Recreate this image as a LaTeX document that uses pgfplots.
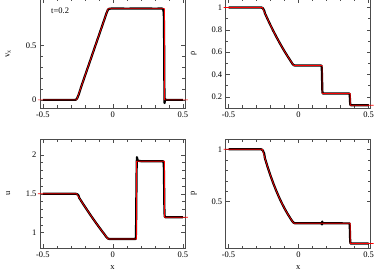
\documentclass[border=0pt]{standalone}
\usepackage{fontspec}
\setmainfont{Liberation Serif}
\usepackage{pgfplots}
\pgfplotsset{compat=1.18}
\pgfplotsset{panel/.style={
  scale only axis, width=145pt, height=109pt,
  xmin=-0.52, xmax=0.515,
  xtick={-0.5,0,0.5}, minor x tick num=4,
  tick align=inside,
  major tick length=4pt, minor tick length=2.5pt,
  axis line style={black!70, line width=0.6pt},
  every tick/.style={black!70, line width=0.5pt},
  tick label style={font=\fontsize{8.5}{10}\selectfont},
  label style={font=\fontsize{8.5}{10}\selectfont},
  /pgf/number format/assume math mode=true,
  clip=false,
  ylabel style={at={(axis description cs:-0.22,0.5)}, anchor=center},
  xlabel style={at={(axis description cs:0.5,-0.18)}, anchor=center},
},
sim/.style={black, line width=2.2pt, line join=round},
exact/.style={red, line width=0.7pt}}
\begin{document}
\begin{tikzpicture}
\useasboundingbox (0,0) rectangle (374pt,280pt);
% ---------------- v_x
\begin{axis}[panel, at={(40pt,172pt)}, anchor=south west,
  ymin=-0.075, ymax=0.93, ytick={0,0.5}, minor y tick num=4,
  ylabel={v\textsubscript{x}}]
\addplot[sim] coordinates {
(-0.5,0) (-0.27,0) (-0.262,0.003) (-0.255,0.014) (-0.245,0.045) (-0.22,0.143)
(-0.10,0.593) (-0.045,0.80) (-0.035,0.832) (-0.025,0.840) (0.0,0.843) (0.1,0.841)
(0.2,0.843) (0.3,0.841) (0.35,0.842) (0.358,0.838) (0.362,0.82) (0.364,0.78)
(0.366,0.55) (0.367,0.3) (0.368,0.1) (0.369,-0.03) (0.371,-0.01) (0.374,0.005)
(0.38,0) (0.5,0)};
\addplot[exact] coordinates {
(-0.535,0) (-0.2582,0) (-0.0339,0.8411) (0.3689,0.8411) (0.3689,0) (0.535,0)};
\node[anchor=west, font=\fontsize{8.5}{10}\selectfont] at (axis cs:-0.465,0.82) {t=0.2};
\end{axis}
% ---------------- rho
\begin{axis}[panel, at={(225.7pt,172pt)}, anchor=south west,
  ymin=0.1, ymax=1.076, ytick={0.2,0.4,0.6,0.8,1}, minor y tick num=1,
  ylabel={ρ}]
\addplot[sim] coordinates {
(-0.5,1) (-0.265,1) (-0.255,0.993) (-0.245,0.972) (-0.24,0.948) (-0.22,0.8931)
(-0.20,0.8403) (-0.18,0.7896) (-0.16,0.7410) (-0.14,0.6945) (-0.12,0.6499)
(-0.10,0.6073) (-0.08,0.5666) (-0.06,0.5277) (-0.045,0.498) (-0.035,0.484)
(-0.025,0.4797) (0.16,0.4797) (0.164,0.478) (0.166,0.45) (0.168,0.35)
(0.170,0.25) (0.172,0.232) (0.176,0.2298) (0.36,0.2298) (0.364,0.228)
(0.366,0.2) (0.368,0.15) (0.37,0.128) (0.374,0.125) (0.5,0.125)};
\addplot[exact] coordinates {
(-0.535,1) (-0.2582,1) (-0.24,0.94807) (-0.22,0.89311) (-0.20,0.84030)
(-0.18,0.78963) (-0.16,0.74102) (-0.14,0.69447) (-0.12,0.64989) (-0.10,0.60728)
(-0.08,0.56656) (-0.06,0.52771) (-0.04,0.49066) (-0.0339,0.47968)
(0.1682,0.47968) (0.1682,0.2298) (0.3689,0.2298) (0.3689,0.125) (0.535,0.125)};
\end{axis}
% ---------------- u
\begin{axis}[panel, at={(40pt,31.7pt)}, anchor=south west,
  ymin=0.8, ymax=2.2, ytick={1,1.5,2}, minor y tick num=4,
  ylabel={u}, xlabel={x}]
\addplot[sim] coordinates {
(-0.5,1.5) (-0.265,1.5) (-0.255,1.495) (-0.245,1.478) (-0.24,1.4476)
(-0.22,1.3911) (-0.20,1.3357) (-0.18,1.2815) (-0.16,1.2283) (-0.14,1.1763)
(-0.12,1.1254) (-0.10,1.0757) (-0.08,1.0270) (-0.06,0.9795) (-0.045,0.942)
(-0.035,0.925) (-0.025,0.9192) (0.16,0.9192) (0.164,0.925) (0.166,1.1)
(0.168,1.5) (0.170,1.85) (0.172,1.97) (0.175,1.94) (0.18,1.925) (0.2,1.919)
(0.36,1.918) (0.362,1.9) (0.364,1.85) (0.366,1.6) (0.368,1.3) (0.37,1.21)
(0.374,1.2) (0.5,1.2)};
\addplot[exact] coordinates {
(-0.535,1.5) (-0.2582,1.5) (-0.24,1.44761) (-0.22,1.39111) (-0.20,1.33572)
(-0.18,1.28147) (-0.16,1.22832) (-0.14,1.17633) (-0.12,1.12544) (-0.10,1.07568)
(-0.08,1.02704) (-0.06,0.97953) (-0.04,0.93314) (-0.0339,0.91915)
(0.1682,0.91915) (0.1682,1.9186) (0.3689,1.9186) (0.3689,1.2) (0.535,1.2)};
\end{axis}
% ---------------- p
\begin{axis}[panel, at={(225.7pt,31.7pt)}, anchor=south west,
  ymin=0.055, ymax=1.096, ytick={0.5,1}, minor y tick num=4,
  ylabel={p}, xlabel={x}]
\addplot[sim] coordinates {
(-0.5,1) (-0.265,1) (-0.255,0.990) (-0.245,0.958) (-0.24,0.915) (-0.22,0.8283)
(-0.20,0.7483) (-0.18,0.6746) (-0.16,0.6068) (-0.14,0.5446) (-0.12,0.4876)
(-0.10,0.4355) (-0.08,0.3879) (-0.06,0.3446) (-0.045,0.314) (-0.035,0.299)
(-0.025,0.2939) (0.165,0.2939) (0.167,0.283) (0.169,0.31) (0.171,0.294)
(0.364,0.293) (0.366,0.25) (0.368,0.15) (0.37,0.105) (0.374,0.1) (0.5,0.1)};
\addplot[exact] coordinates {
(-0.535,1) (-0.2582,1) (-0.24,0.91495) (-0.22,0.82828) (-0.20,0.74827)
(-0.18,0.67459) (-0.16,0.60681) (-0.14,0.54462) (-0.12,0.48761) (-0.10,0.43549)
(-0.08,0.38792) (-0.06,0.34461) (-0.04,0.30523) (-0.0339,0.29393)
(0.3689,0.29393) (0.3689,0.1) (0.535,0.1)};
\end{axis}
\end{tikzpicture}
\end{document}
